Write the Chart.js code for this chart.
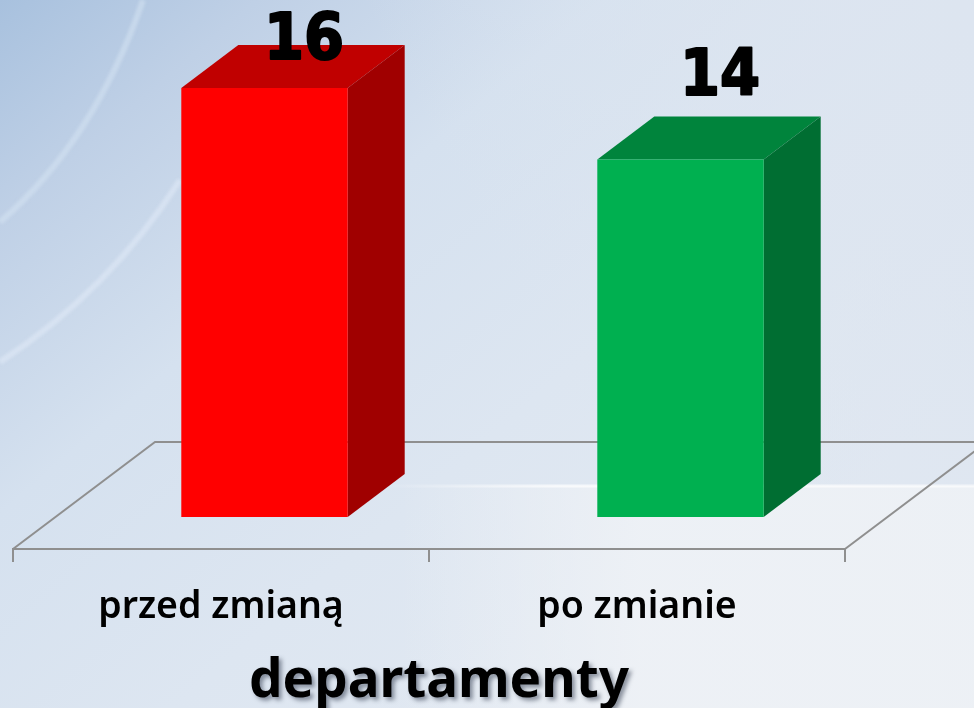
<!DOCTYPE html>
<html lang="pl">
<head>
<meta charset="utf-8">
<title>departamenty</title>
<style>html,body{margin:0;padding:0;background:#e4eaf3;overflow:hidden}canvas{display:block}</style>
<script src="https://cdn.jsdelivr.net/npm/chart.js@4"></script>
</head>
<body>
<canvas id="c" width="974" height="708"></canvas>
<script>
const categories = ["przed zmianą", "po zmianie"];
const values = [16, 14];
const axisMin = 4;
const axisMax = 18;
const frontColors = ["#ff0000", "#00b050"];
const topColors = ["#c00000", "#00843c"];
const sideColors = ["#a00000", "#006e32"];
const axisTitle = "departamenty";

const shift = {x: 43.5, y: -32};
const depth = {x: 57, y: -43};
const floor = {x: 142, y: -107};
const lineColor = "#8f8f8f";

function poly(ctx, pts, fill){
  ctx.beginPath();
  pts.forEach((p,i)=> i ? ctx.lineTo(p[0],p[1]) : ctx.moveTo(p[0],p[1]));
  ctx.closePath(); ctx.fillStyle = fill; ctx.fill();
}

const backdrop = {
  id: "backdrop",
  beforeDraw(chart){
    const {ctx, width:w, height:h} = chart;
    ctx.save();
    let g = ctx.createLinearGradient(0,0,w*0.62,h);
    g.addColorStop(0,"#a8c1de"); g.addColorStop(0.18,"#bfd0e6");
    g.addColorStop(0.42,"#d5e1ef"); g.addColorStop(0.7,"#dde6f1"); g.addColorStop(1,"#e2e9f2");
    ctx.fillStyle = g; ctx.fillRect(0,0,w,h);
    g = ctx.createLinearGradient(w,0,w*0.5,h*0.35);
    g.addColorStop(0,"rgba(221,229,240,1)"); g.addColorStop(1,"rgba(221,229,240,0)");
    ctx.fillStyle = g; ctx.fillRect(0,0,w,h);
    g = ctx.createLinearGradient(400,0,640,0);
    g.addColorStop(0,"rgba(239,242,246,0)"); g.addColorStop(1,"rgba(239,242,246,.85)");
    ctx.fillStyle = g; ctx.fillRect(400,486,w-400,222);
    g = ctx.createLinearGradient(380,0,974,0);
    g.addColorStop(0,"rgba(255,255,255,0)"); g.addColorStop(0.3,"rgba(255,255,255,.7)"); g.addColorStop(1,"rgba(255,255,255,.6)");
    ctx.strokeStyle = g; ctx.lineWidth = 3;
    ctx.beginPath(); ctx.moveTo(380,486); ctx.lineTo(w,486); ctx.stroke();
    ctx.lineCap = "butt";
    ctx.filter = "blur(1.5px)";
    ctx.strokeStyle = "rgba(214,227,243,.55)"; ctx.lineWidth = 6;
    ctx.beginPath(); ctx.moveTo(0,222); ctx.quadraticCurveTo(95,140,143,0); ctx.stroke();
    ctx.strokeStyle = "rgba(226,235,247,.55)";
    ctx.beginPath(); ctx.moveTo(0,362); ctx.quadraticCurveTo(110,290,180,180); ctx.stroke();
    ctx.restore();
  }
};

const floorPlane = {
  id: "floorPlane",
  beforeDatasetsDraw(chart){
    const {ctx} = chart, xs = chart.scales.x, ys = chart.scales.y;
    const y0 = ys.bottom, l = xs.left, r = xs.right;
    const back = y0 + floor.y;
    ctx.save();
    ctx.strokeStyle = lineColor; ctx.lineWidth = 2;
    ctx.beginPath();
    ctx.moveTo(l,y0); ctx.lineTo(l+floor.x,back); ctx.lineTo(r+floor.x,back);
    ctx.moveTo(r,y0); ctx.lineTo(r+floor.x,back);
    ctx.stroke();
    ctx.restore();
  }
};

const bars3d = {
  id: "bars3d",
  beforeDatasetDraw(chart, args){
    const {ctx} = chart;
    ctx.save();
    ctx.translate(shift.x, shift.y);
    chart.getDatasetMeta(args.index).data.forEach((b,i)=>{
      const l = b.x - b.width/2, r = b.x + b.width/2, t = b.y, base = b.base;
      poly(ctx, [[l,t],[l+depth.x,t+depth.y],[r+depth.x,t+depth.y],[r,t]], topColors[i]);
      poly(ctx, [[r,t],[r+depth.x,t+depth.y],[r+depth.x,base+depth.y],[r,base]], sideColors[i]);
    });
  },
  afterDatasetDraw(chart){ chart.ctx.restore(); }
};

const valueLabels = {
  id: "valueLabels",
  afterDatasetsDraw(chart){
    const {ctx} = chart;
    ctx.save();
    ctx.font = 'bold 64px "DejaVu Sans Condensed", "DejaVu Sans"';
    ctx.fillStyle = "#000"; ctx.strokeStyle = "#000"; ctx.lineWidth = 2; ctx.lineJoin = "round";
    ctx.textAlign = "center"; ctx.textBaseline = "middle";
    chart.getDatasetMeta(0).data.forEach((b,i)=>{
      const frontTop = b.y + shift.y;
      const x = b.x + shift.x + 39.5, y = Math.max(42, frontTop - 81);
      ctx.fillText(String(values[i]), x, y);
      ctx.strokeText(String(values[i]), x, y);
    });
    ctx.restore();
  }
};

const titleShadow = {
  id: "titleShadow",
  beforeDraw(chart){
    const s = chart.scales.x;
    if (s._wrapped) return;
    s._wrapped = true;
    const orig = s.drawTitle.bind(s);
    s.drawTitle = function(){
      const c = s.ctx;
      c.save();
      c.translate(10,6);
      c.shadowColor = "rgba(40,50,70,.5)"; c.shadowBlur = 4; c.shadowOffsetX = 3; c.shadowOffsetY = 3;
      orig();
      c.restore();
    };
  }
};

new Chart(document.getElementById("c"), {
  type: "bar",
  data: { labels: categories, datasets: [{ data: values, base: axisMin, backgroundColor: frontColors, borderWidth: 0,
    barPercentage: 0.4, categoryPercentage: 1, clip: false }] },
  options: {
    responsive: false, animation: false, devicePixelRatio: 1,
    layout: { padding: { left: 13, right: 129, top: 48.5, bottom: 0 } },
    plugins: { legend: { display: false }, tooltip: { enabled: false } },
    scales: {
      y: { display: false, min: axisMin, max: axisMax },
      x: {
        afterFit(s){ s.height = 159; },
        grid: { drawOnChartArea: false, color: lineColor, lineWidth: 2, tickLength: 13, offset: true },
        border: { color: lineColor, width: 2 },
        ticks: { color: "#000", padding: 23, maxRotation: 0,
          font: { family: '"Noto Sans"', size: 37.5, weight: "600" } },
        title: { display: true, text: axisTitle, color: "#000", padding: 0,
          font: { family: '"Noto Sans"', size: 53, weight: "bold" } }
      }
    }
  },
  plugins: [backdrop, floorPlane, bars3d, valueLabels, titleShadow]
});
</script>
</body>
</html>
